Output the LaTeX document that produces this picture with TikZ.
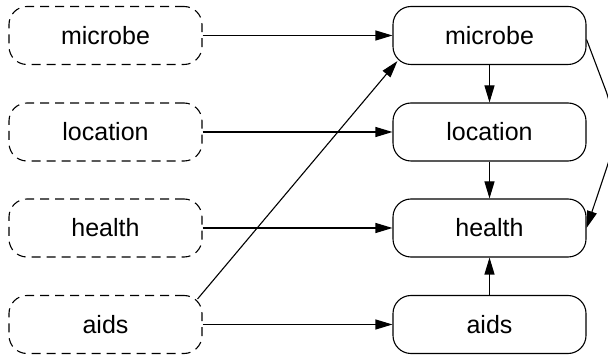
\documentclass[tikz,border=0pt]{standalone}
\usepackage{fontspec}
\setmainfont{Liberation Sans}
\usetikzlibrary{arrows.meta,calc}
\begin{document}
\begin{tikzpicture}[x=1pt,y=-1pt,
  every node/.style={font=\fontsize{25}{29}\selectfont},
  box/.style={draw,line width=1.1pt,rounded corners=18pt,minimum width=193pt,minimum height=58pt,inner sep=0pt},
  latent/.style={box,dash pattern=on 9pt off 6pt},
  link/.style={line width=1.1pt,-{Triangle[length=17pt,width=10pt]}}]
\useasboundingbox (0,0) rectangle (608,355);
% input column (dashed)
\node[latent] (m1) at (105.5,35.5) {microbe};
\node[latent] (l1) at (105.5,132) {location};
\node[latent] (h1) at (105.5,228) {health};
\node[latent] (a1) at (105.5,324.5) {aids};
% output column
\node[box] (m2) at (489.5,35.5) {microbe};
\node[box] (l2) at (489.5,132) {location};
\node[box] (h2) at (489.5,228) {health};
\node[box] (a2) at (489.5,324.5) {aids};
% straight links across
\draw[link] (m1) -- (m2);
\draw[link] (l1) -- (l2);
\draw[link] (h1) -- (h2);
\draw[link] (a1) -- (a2);
% links down the output column
\draw[link] (m2) -- (l2);
\draw[link] (l2) -- (h2);
\draw[link] (a2) -- (h2);
% diagonal link
\draw[link] ($(a1.north east)+(-5,4)$) -- ($(m2.south west)+(5,-4)$);
% curved link on the right
\coordinate (bend) at (620,128);
\draw[link,rounded corners=40pt] ($(m2.east)+(0,4)$) -- (bend) -- (h2.east);
\end{tikzpicture}
\end{document}
